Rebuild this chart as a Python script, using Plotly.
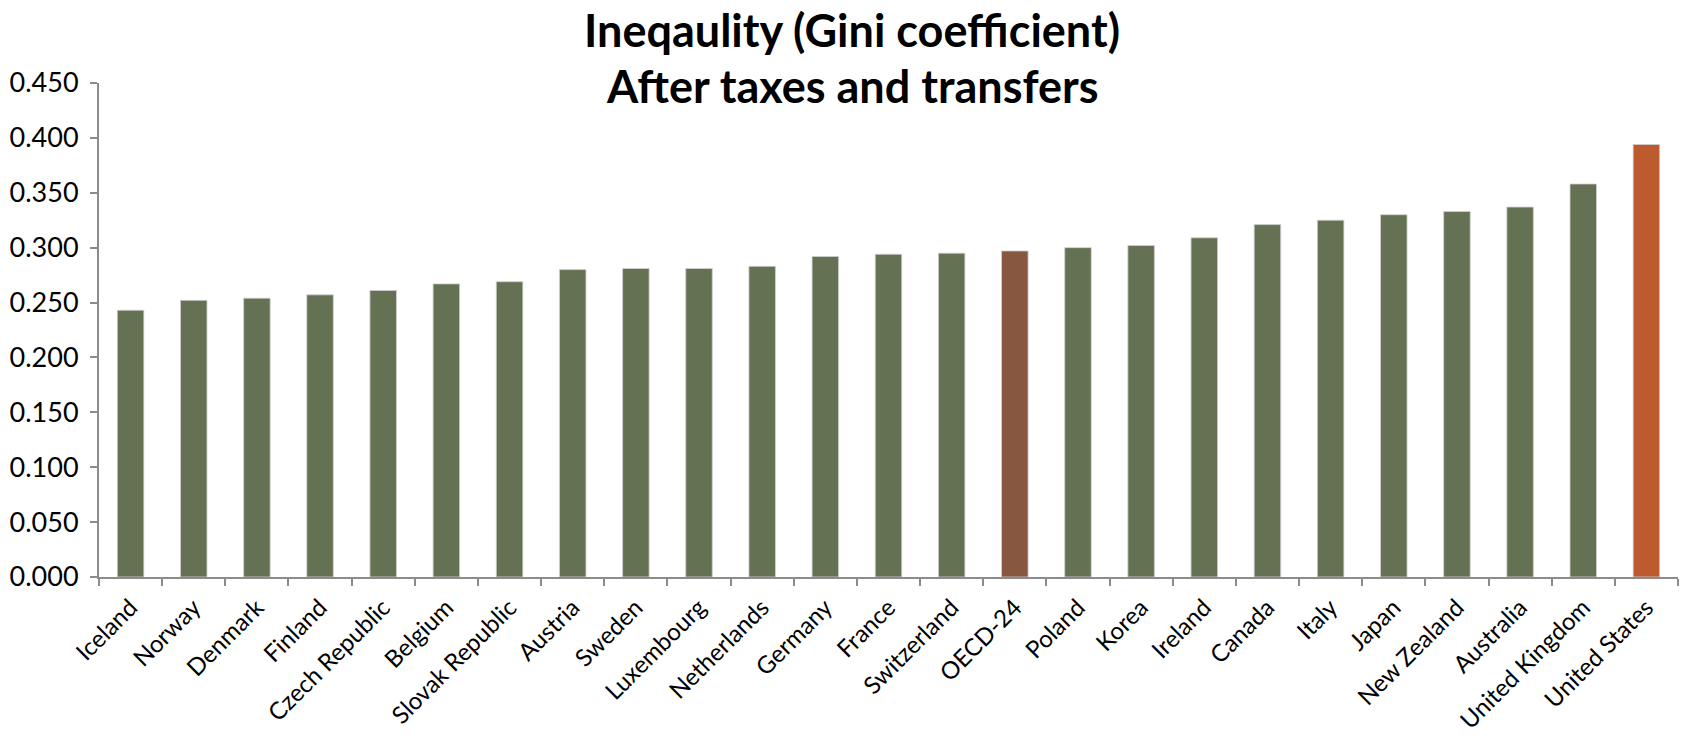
import plotly.graph_objects as go

countries = ["Iceland", "Norway", "Denmark", "Finland", "Czech Republic", "Belgium",
             "Slovak Republic", "Austria", "Sweden", "Luxembourg", "Netherlands",
             "Germany", "France", "Switzerland", "OECD-24", "Poland", "Korea",
             "Ireland", "Canada", "Italy", "Japan", "New Zealand", "Australia",
             "United Kingdom", "United States"]
gini = [0.243, 0.252, 0.254, 0.257, 0.261, 0.267, 0.269, 0.280, 0.281, 0.281,
        0.283, 0.292, 0.294, 0.295, 0.297, 0.300, 0.302, 0.309, 0.321, 0.325,
        0.330, 0.333, 0.337, 0.358, 0.394]
tick_vals = [0.0, 0.05, 0.1, 0.15, 0.2, 0.25, 0.3, 0.35, 0.4, 0.45]
tick_text = ["0.000", "0.050", "0.100", "0.150", "0.200", "0.250", "0.300", "0.350", "0.400", "0.450"]
title_lines = ["Ineqaulity (Gini coefficient)", "After taxes and transfers"]

GREEN = "#647153"
OECD = "#875740"
US = "#BD5A2E"
colors = [OECD if c == "OECD-24" else US if c == "United States" else GREEN for c in countries]

fig = go.Figure(go.Bar(
    x=countries, y=gini,
    marker=dict(color=colors, line=dict(color="#d0d0d0", width=0.8)),
    width=0.42,
))

FONT = "Lato"
fig.update_layout(
    width=1683, height=736,
    margin=dict(l=99, r=5, t=83, b=159, autoexpand=False),
    paper_bgcolor="white", plot_bgcolor="white",
    showlegend=False,
    font=dict(family=FONT, color="black"),
)
for line, ypos in zip(title_lines, [1.108, 0.994]):
    fig.add_annotation(
        text="<b>" + line + "</b>", xref="paper", yref="paper",
        x=0.477, y=ypos, xanchor="center", yanchor="middle",
        showarrow=False, font=dict(family=FONT, size=45, color="black"),
    )
fig.update_xaxes(
    automargin=False,
    showline=True, linecolor="#8c8c8c", linewidth=2,
    ticks="outside", ticklen=7, tickcolor="#8c8c8c", tickwidth=2,
    tickson="boundaries", ticklabelstandoff=5,
    tickangle=-45, tickfont=dict(family=FONT, size=24, color="black"),
    showgrid=False,
)
fig.update_yaxes(
    automargin=False,
    range=[0, 0.45],
    tickvals=tick_vals, ticktext=tick_text,
    showline=True, linecolor="#8c8c8c", linewidth=2,
    ticks="outside", ticklen=7, tickcolor="#8c8c8c", tickwidth=2,
    ticklabelstandoff=6,
    tickfont=dict(family=FONT, size=27, color="black"),
    showgrid=False, zeroline=False,
)

fig.write_html("out.html", config={"displayModeBar": False},
               post_script="document.body.style.margin='0';")
